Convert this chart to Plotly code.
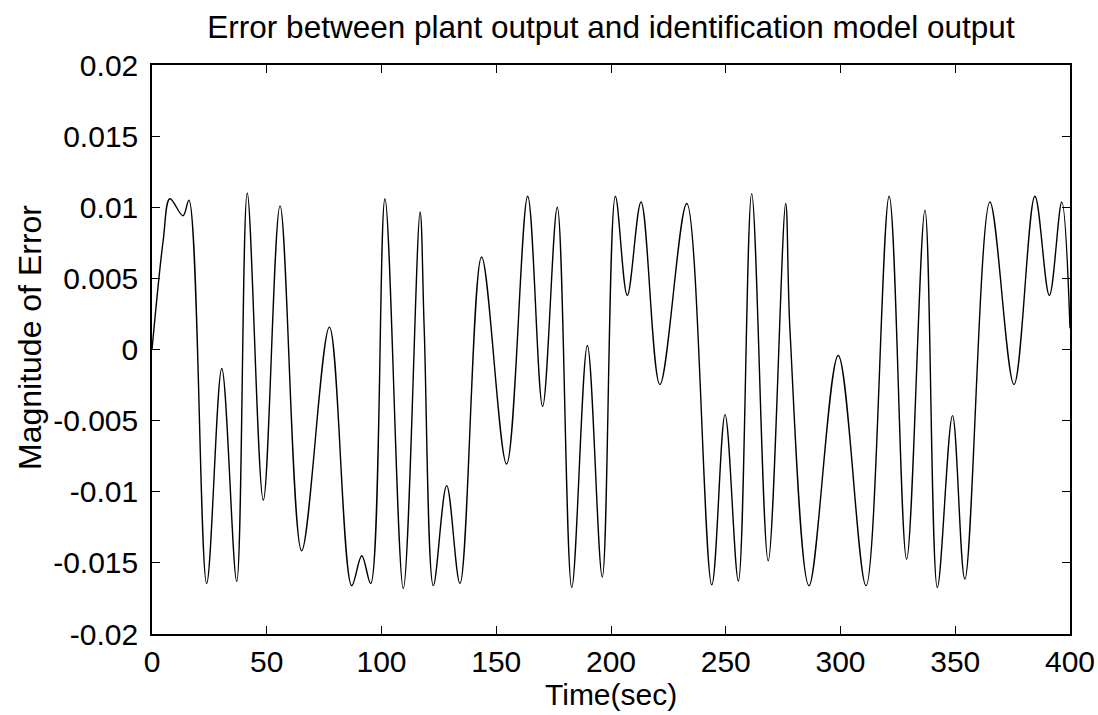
import plotly.graph_objects as go

# Extrema / key points
time_sec = [0, 4.9, 7.8, 13.5, 16.1, 23.8, 30.4, 36.9, 41.5, 48.5, 55.8, 65.2, 77.3,
            87.0, 91.4, 95.3, 101.5, 109.5, 116.8, 118.6, 122.6, 128.4, 134.2, 143.6,
            154.5, 163.7, 170.2, 176.6, 182.9, 189.7, 196.2, 201.9, 207.1, 213.1,
            221.3, 233.0, 243.9, 249.7, 255.5, 261.3, 268.5, 276.1, 278.0, 286.3,
            299.0, 311.1, 321.2, 328.8, 336.8, 342.2, 348.8, 354.2, 365.1, 375.6,
            384.7, 391.0, 396.4, 400.0]
error_mag = [0.0, 0.0077, 0.0106, 0.0094, 0.0105, -0.01645, -0.00134, -0.0163, 0.0110,
             -0.0106, 0.0101, -0.01415, 0.00157, -0.0166, -0.0145, -0.01645, 0.0106,
             -0.0168, 0.00967, 0.0015, -0.0166, -0.00957, -0.01645, 0.0065, -0.00805,
             0.01077, -0.0040, 0.0100, -0.01673, 0.00028, -0.0160, 0.01077, 0.0038,
             0.01037, -0.00246, 0.01026, -0.01655, -0.00458, -0.01627, 0.01096,
             -0.01486, 0.01026, 0.0013, -0.0166, -0.00042, -0.0166, 0.01077,
             -0.01474, 0.0098, -0.01673, -0.00465, -0.01614, 0.01037, -0.00246,
             0.01077, 0.0038, 0.01037, 0.0015]

x_tick_vals = [0, 50, 100, 150, 200, 250, 300, 350, 400]
x_tick_text = ["0", "50", "100", "150", "200", "250", "300", "350", "400"]
y_tick_vals = [-0.02, -0.015, -0.01, -0.005, 0, 0.005, 0.01, 0.015, 0.02]
y_tick_text = ["-0.02", "-0.015", "-0.01", "-0.005", "0", "0.005", "0.01", "0.015", "0.02"]

FONT = "Liberation Sans, Arial, sans-serif"
W, H = 1098, 715
ML, MR, MT, MB = 152, 28, 65, 81
PW, PH = W - ML - MR, H - MT - MB

fig = go.Figure()
fig.add_trace(go.Scatter(
    x=time_sec, y=error_mag, mode="lines",
    line=dict(color="black", width=1.4, shape="spline", smoothing=1.0),
    showlegend=False, hoverinfo="skip",
))

axis_common = dict(
    showline=True, linecolor="black", linewidth=1.5, mirror="allticks",
    ticks="inside", ticklen=8, tickwidth=1.2, tickcolor="black",
    showgrid=False, zeroline=False, automargin=False,
    tickfont=dict(family=FONT, size=30, color="black"),
)

fig.update_layout(
    width=W, height=H,
    margin=dict(l=ML, r=MR, t=MT, b=MB, autoexpand=False),
    paper_bgcolor="white", plot_bgcolor="white",
    font=dict(family=FONT, color="black"),
    title=dict(
        text="Error between plant output and identification model output",
        font=dict(family=FONT, size=31.5, color="black"),
        x=0.5, xref="paper", xanchor="center",
        y=1 - 27 / H, yref="container", yanchor="middle",
    ),
    xaxis=dict(range=[0, 400], tickvals=x_tick_vals, ticktext=x_tick_text, **axis_common),
    yaxis=dict(range=[-0.02, 0.02], tickvals=y_tick_vals, ticktext=y_tick_text,
               ticklabelstandoff=6, **axis_common),
    annotations=[
        dict(text="Time(sec)", xref="paper", yref="paper",
             x=0.5, y=-(694 - (MT + PH)) / PH, xanchor="center", yanchor="middle",
             showarrow=False, font=dict(family=FONT, size=30, color="black")),
        dict(text="Magnitude of Error", xref="paper", yref="paper",
             x=(30 - ML) / PW, y=((MT + PH) - 337) / PH, xanchor="center", yanchor="middle",
             textangle=-90, showarrow=False, font=dict(family=FONT, size=32, color="black")),
    ],
)

fig.write_html("out.html")
